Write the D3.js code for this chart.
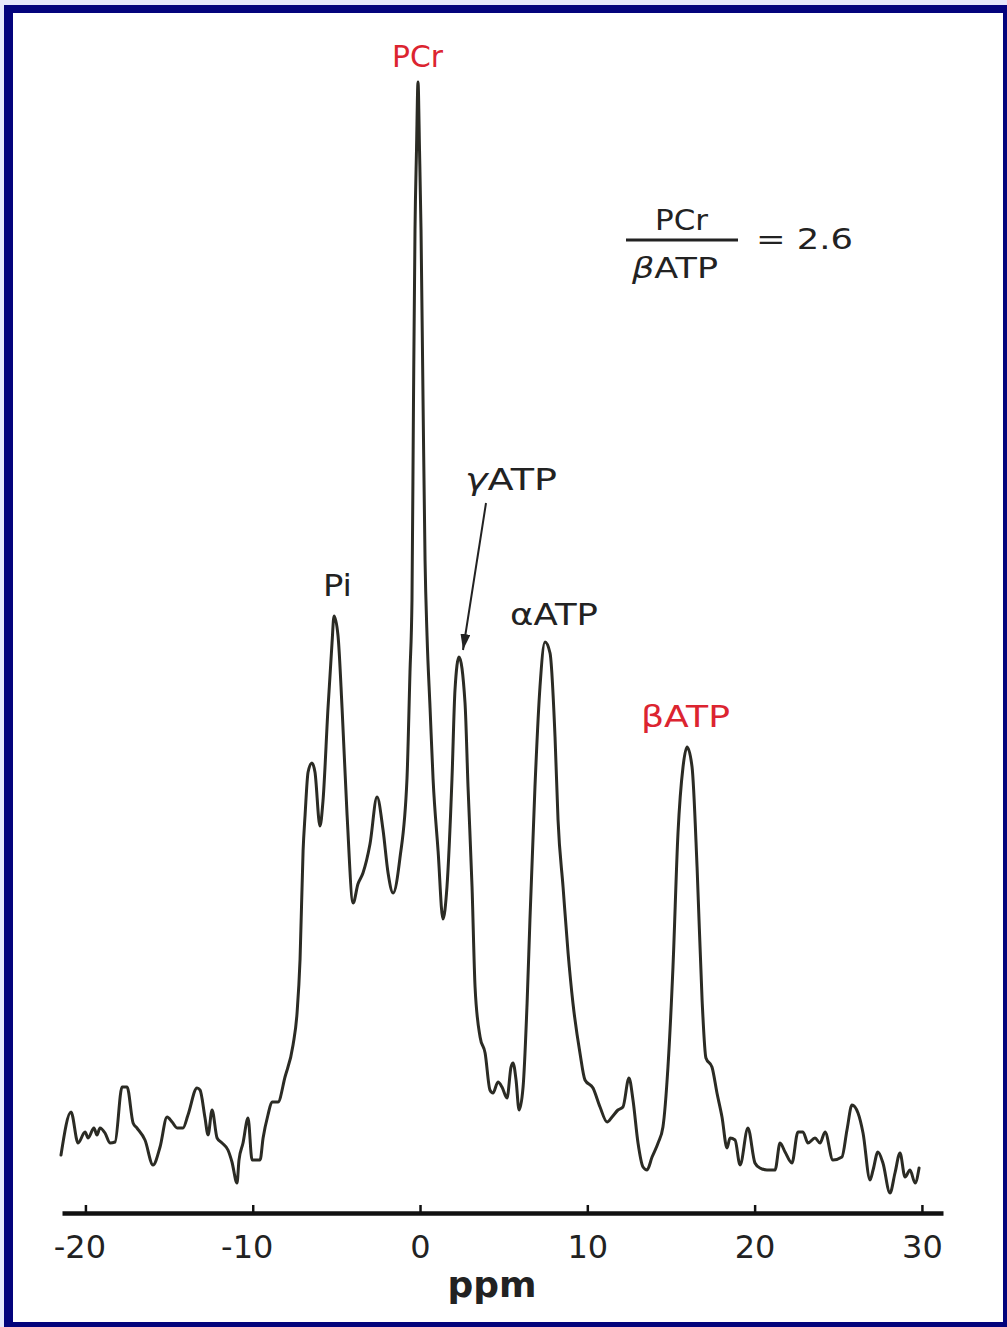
<!DOCTYPE html>
<html>
<head>
<meta charset="utf-8">
<script src="https://cdn.jsdelivr.net/npm/d3@7"></script>
<style>
html,body{margin:0;padding:0;background:#e6e8fb;}
svg{display:block;}
</style>
</head>
<body>
<svg id="chart" width="1007" height="1327"></svg>
<script>
// ---- data (ppm, arbitrary intensity) ----
const ppm = [
-21.46,-20.86,-20.44,-20.02,-19.84,-19.49,-19.31,-19.13,-18.83,-18.53,-18.23,-17.81,-17.51,-17.15,-16.92,-16.44,-15.96,-15.54,-15.12,-14.82,
-14.52,-14.17,-13.87,-13.33,-13.15,-12.85,-12.67,-12.43,-12.13,-11.83,-11.48,-11.24,-10.94,-10.82,-10.58,-10.28,-10.04,-9.56,-9.38,-9.09,
-8.85,-8.49,-8.07,-7.59,-7.35,-7.17,-6.99,-6.87,-6.69,-6.46,-6.28,-5.98,-5.80,-5.50,-5.26,-5.14,-4.90,-4.66,-4.36,-4.00,
-3.71,-3.41,-2.99,-2.57,-2.21,-1.91,-1.61,-1.20,-0.78,-0.60,-0.48,-0.39,-0.30,-0.21,-0.12,-0.03,0.06,0.18,0.30,0.42,
0.60,0.78,1.08,1.37,1.61,1.91,2.09,2.33,2.69,2.87,3.11,3.29,3.59,3.89,4.18,4.36,4.66,4.90,5.20,5.44,
5.56,5.74,5.92,6.16,6.40,6.57,6.87,7.17,7.47,7.77,8.07,8.25,8.55,8.85,9.14,9.56,9.86,10.34,10.76,11.18,
11.48,11.83,12.13,12.49,12.73,13.03,13.33,13.57,13.87,14.23,14.52,14.82,15.12,15.42,15.72,15.96,16.26,16.56,16.86,17.09,
17.45,17.75,18.05,18.35,18.53,18.83,19.13,19.60,20.02,20.32,20.74,21.22,21.52,21.82,22.23,22.59,22.89,23.19,23.61,23.91,
24.21,24.68,25.22,25.52,25.82,26.18,26.48,26.90,27.08,27.37,27.67,28.09,28.39,28.69,28.99,29.29,29.59,29.83
];
const intensity = [
5.8,10.1,7.0,8.1,7.5,8.5,7.8,8.5,8.0,7.0,7.1,12.6,12.6,9.0,8.5,7.3,4.8,6.6,9.6,9.1,
8.5,8.5,9.8,12.5,12.3,9.5,7.8,10.3,7.5,7.0,6.3,5.1,3.0,5.3,7.0,9.5,5.3,5.3,7.5,9.8,
11.1,11.1,13.6,16.8,20.0,25.4,36.2,39.8,44.1,45.0,44.1,38.7,41.2,50.5,57.0,59.7,57.7,50.5,39.8,31.0,
32.9,34.0,36.9,41.6,38.3,34.0,32.0,35.5,43.4,54.1,61.3,81.3,98.3,106.3,113.1,106.3,98.3,81.3,65.3,57.7,
50.5,43.4,36.2,29.4,32.6,43.4,52.3,55.6,51.0,42.6,32.6,22.6,17.6,16.0,12.3,12.0,13.1,12.6,11.5,14.6,
15.0,13.3,10.3,12.6,21.0,29.3,42.6,52.6,57.1,56.0,47.6,39.3,32.6,26.0,21.0,16.0,13.3,12.5,10.6,9.1,
9.6,10.3,10.6,13.5,11.3,7.0,4.6,4.3,5.6,7.0,8.6,14.6,24.6,38.0,44.6,46.6,44.6,34.6,21.3,15.5,
14.6,12.0,9.6,6.5,7.5,7.3,4.8,8.5,5.0,4.5,4.3,4.3,7.0,6.1,5.0,8.1,8.1,7.0,7.5,7.0,
8.1,5.3,5.6,8.3,10.8,10.0,8.0,3.3,4.3,6.1,5.0,2.0,4.0,6.0,3.6,4.3,3.0,4.5
];
const tickValues = [-20, -10, 0, 10, 20, 30];
const axisTitle = "ppm";
const ratioNumerator = "PCr";
const ratioValue = "= 2.6";

// ---- drawing ----
const svg = d3.select("#chart");
const W = 1007, H = 1327;

// frame
svg.append("rect").attr("x",4).attr("y",5).attr("width",W-4).attr("height",H-5).attr("fill","#03037c");
svg.append("rect").attr("x",13).attr("y",13).attr("width",1003-13).attr("height",1322-13).attr("fill","#ffffff");

const x = d3.scaleLinear().domain([-21.40, 31.26]).range([62, 943]);
const y = d3.scaleLinear().domain([0, 113.3]).range([1213, 80]);

const data = ppm.map((p,i)=>({p, v: intensity[i]}));

const line = d3.line().x(d=>x(d.p)).y(d=>y(d.v)).curve(d3.curveMonotoneX);
svg.append("path").datum(data)
  .attr("d", line)
  .attr("fill","none")
  .attr("stroke","#2b2b24")
  .attr("stroke-width",3)
  .attr("stroke-linejoin","round")
  .attr("stroke-linecap","round");

// axis
const axis = d3.axisBottom(x).tickValues(tickValues)
  .tickSizeInner(-8).tickSizeOuter(0).tickPadding(22)
  .tickFormat(d=>d3.format("d")(d).replace("−","-"));
const gA = svg.append("g").attr("transform","translate(0,1213)").call(axis);
gA.select(".domain").attr("stroke","#111").attr("stroke-width",4.5);
gA.selectAll(".tick line").attr("stroke","#111").attr("stroke-width",2.5);
gA.selectAll(".tick text")
  .attr("fill","#222")
  .style("font-family","'DejaVu Sans', sans-serif")
  .style("font-size","32px")
  .attr("dx", d=> d<0 ? -6 : 0);

svg.append("text").attr("x",492).attr("y",1297)
  .attr("text-anchor","middle")
  .style("font-family","'DejaVu Sans', sans-serif")
  .style("font-weight","bold").style("font-size","36px")
  .attr("fill","#222").text(axisTitle);

// labels
const font = "'DejaVu Sans', sans-serif";
function label(parts, x0, yb, len, color, size){
  const t = svg.append("text").attr("x",x0).attr("y",yb)
    .attr("textLength",len).attr("lengthAdjust","spacingAndGlyphs")
    .style("font-family",font).style("font-size",size+"px")
    .attr("fill",color);
  parts.forEach(p=>{
    t.append("tspan").style("font-style", p.italic ? "italic" : "normal").text(p.t);
  });
}
const red = "#dc2430";
label([{t:"PCr"}], 392, 67, 51, red, 30);
label([{t:"Pi"}], 323, 596, 29, "#222", 30);
label([{t:"γ",italic:true},{t:"ATP"}], 465, 490, 92, "#222", 30);
label([{t:"α"},{t:"ATP"}], 510, 625, 88, "#222", 30);
label([{t:"β"},{t:"ATP"}], 641, 727, 89, red, 30);

// ratio
label([{t:ratioNumerator}], 655, 230, 53, "#222", 28);
svg.append("line").attr("x1",626).attr("x2",738).attr("y1",240).attr("y2",240)
  .attr("stroke","#222").attr("stroke-width",3);
label([{t:"β",italic:true},{t:"ATP"}], 632, 278, 86, "#222", 28);
label([{t:ratioValue}], 756, 249, 97, "#222", 29);

// arrow to gamma ATP
const defs = svg.append("defs");
defs.append("marker").attr("id","ah")
  .attr("refX",16).attr("refY",5)
  .attr("markerUnits","userSpaceOnUse").attr("orient","auto")
  .attr("viewBox","0 0 16 10").attr("markerWidth",16).attr("markerHeight",10)
  .append("path").attr("d","M0,0 L16,5 L0,10 Z").attr("fill","#222");
svg.append("line").attr("x1",486).attr("y1",503).attr("x2",463).attr("y2",650)
  .attr("stroke","#222").attr("stroke-width",2)
  .attr("marker-end","url(#ah)");
</script>
</body>
</html>
